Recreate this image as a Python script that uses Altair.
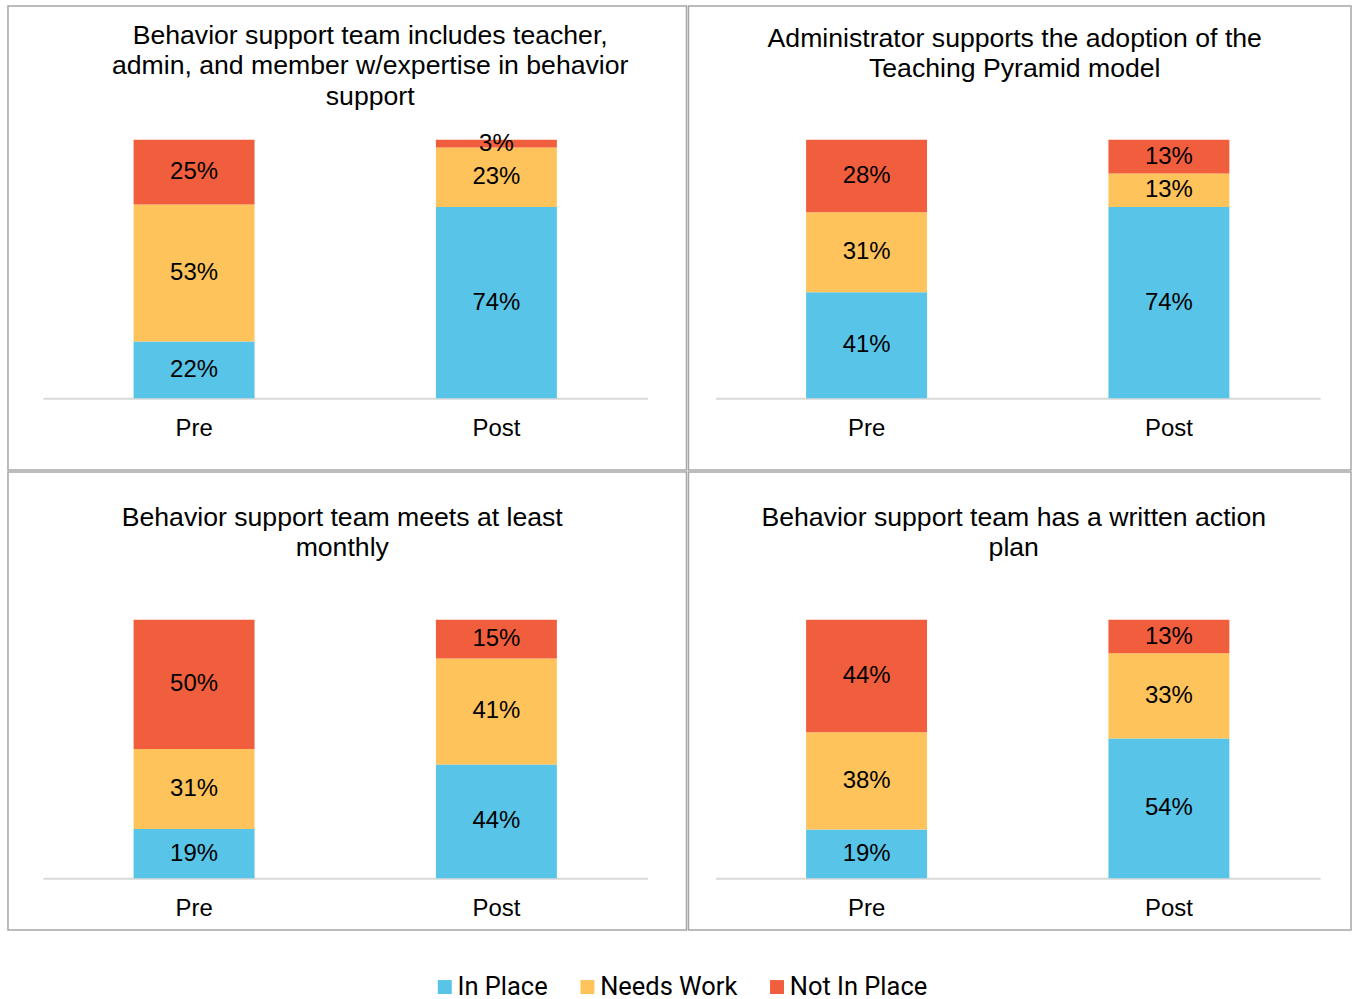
import altair as alt
import pandas as pd

# ---- data ----
titles = [
    ["Behavior support team includes teacher,", "admin, and member w/expertise in behavior", "support"],
    ["Administrator supports the adoption of the", "Teaching Pyramid model"],
    ["Behavior support team meets at least", "monthly"],
    ["Behavior support team has a written action", "plan"],
]
categories = ["Pre", "Post"]
statuses = ["In Place", "Needs Work", "Not In Place"]
colors = ["#57C4E8", "#FEC35A", "#F15E3D"]

# values[panel][category] = [In Place, Needs Work, Not In Place]
in_place   = [[22, 74], [41, 74], [19, 44], [19, 54]]
needs_work = [[53, 23], [31, 13], [31, 41], [38, 33]]
not_in     = [[25, 3],  [28, 13], [50, 15], [44, 13]]

FONT = "Liberation Sans"

# layout per panel: (width, height, x-range, baseline, top, title x, title y)
layout = [
    (680, 465, [35, 641], 393, 134, 363, 17),
    (664, 465, [27, 633], 393, 134, 327, 20),
    (680, 459, [35, 641], 407, 148, 335, 33),
    (664, 459, [27, 633], 407, 148, 326, 33),
]


def panel(i):
    w, h, xr, base, top, tx, ty = layout[i]
    rows = []
    for ci, c in enumerate(categories):
        for si, (s, arr) in enumerate(zip(statuses, [in_place, needs_work, not_in])):
            rows.append({"cat": c, "status": s, "ord": si, "value": arr[i][ci],
                         "label": f"{arr[i][ci]}%"})
    df = pd.DataFrame(rows)

    xscale = alt.Scale(domain=categories, range=xr, paddingInner=0.6, paddingOuter=0.3)
    yscale = alt.Scale(domain=[0, 1], range=[base, top])

    base_ch = alt.Chart(df).transform_stack(
        stack="value", groupby=["cat"], as_=["v0", "v1"], offset="normalize",
        sort=[alt.SortField("ord", order="ascending")]
    ).transform_calculate(mid="(datum.v0 + datum.v1) / 2")

    bars = base_ch.mark_bar().encode(
        x=alt.X("cat:N", scale=xscale, sort=categories,
                axis=alt.Axis(title=None, offset=-(h - base), domainColor="#d9d9d9",
                              domainWidth=2, ticks=False, tickSize=0, labelAngle=0,
                              labelFontSize=24, labelFont=FONT, labelColor="black",
                              labelPadding=18, grid=False)),
        y=alt.Y("v0:Q", scale=yscale, axis=None),
        y2="v1:Q",
        color=alt.Color("status:N", scale=alt.Scale(domain=statuses, range=colors),
                        legend=alt.Legend(orient="none", legendX=425, legendY=970,
                                          direction="horizontal", title=None,
                                          symbolType="square", symbolSize=196,
                                          symbolStrokeWidth=0, labelFontSize=25.5,
                                          labelFont="Roboto", labelColor="black",
                                          columnPadding=27, labelOffset=0, padding=0)),
    )

    labels = base_ch.mark_text(fontSize=24, font=FONT, color="black", baseline="middle").encode(
        x=alt.X("cat:N", scale=xscale, sort=categories),
        y=alt.Y("mid:Q", scale=yscale),
        text="label:N",
    )

    title = alt.Chart(alt.Data(values=[{"t": titles[i]}])).mark_text(
        fontSize=26.7, font=FONT, color="black", baseline="top", align="center", lineHeight=30.5
    ).encode(x=alt.value(tx), y=alt.value(ty), text="t:N")

    return alt.layer(bars, labels, title).properties(width=w, height=h)


chart = alt.vconcat(
    alt.hconcat(panel(0), panel(1), spacing=0),
    alt.hconcat(panel(2), panel(3), spacing=0),
    spacing=0,
).properties(
    padding={"left": 7, "top": 4, "right": 1, "bottom": 5},
    background="white",
).configure_view(stroke="#a6a6a6", strokeWidth=1.5)

chart.save("out.html", embed_options={"renderer": "svg", "actions": False})
